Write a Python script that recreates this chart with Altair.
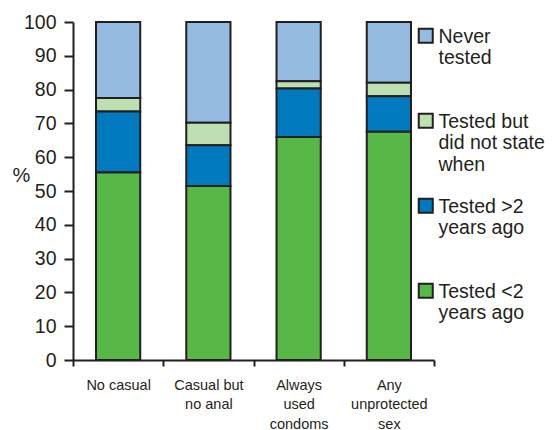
import altair as alt
import pandas as pd

categories = ["No casual", "Casual but\nno anal", "Always\nused\ncondoms", "Any\nunprotected\nsex"]
series = ["Never\ntested", "Tested but\ndid not state\nwhen", "Tested >2\nyears ago", "Tested <2\nyears ago"]
colors = ["#95BBE0", "#BDDFB1", "#0079BF", "#57B847"]
stack_order = [3, 2, 1, 0]

tested_lt2 = [55.5, 51.5, 66.0, 67.5]
tested_gt2 = [18.0, 12.0, 14.3, 10.5]
tested_nostate = [4.0, 6.7, 2.2, 4.0]
never_tested = [22.5, 29.8, 17.5, 18.0]

values_by_series = [never_tested, tested_nostate, tested_gt2, tested_lt2]

rows = []
for s, vals, o in zip(series, values_by_series, stack_order):
    for c, v in zip(categories, vals):
        rows.append({"cat": c, "series": s, "value": v, "ord": o})
df = pd.DataFrame(rows)

FONT = "Liberation Sans"
INK = "#231F20"

chart = alt.Chart(df).mark_bar(
    width=alt.RelativeBandSize(0.49), stroke=INK, strokeWidth=2, opacity=1
).encode(
    x=alt.X("cat:N", sort=categories, title=None,
            scale=alt.Scale(paddingInner=0, paddingOuter=0),
            axis=alt.Axis(labelAngle=0, labelExpr="split(datum.label, '\\n')",
                          tickBand="extent", labelFontSize=14.5, labelLineHeight=19.5,
                          labelPadding=12, tickSize=6, labelBaseline="top")),
    y=alt.Y("value:Q", stack="zero", title="%",
            scale=alt.Scale(domain=[0, 100], nice=False),
            axis=alt.Axis(values=list(range(0, 101, 10)), grid=False, tickSize=9,
                          labelFontSize=19.5, labelPadding=8, titleAngle=0,
                          titleFontSize=20, titleFontWeight="normal",
                          titleX=-52, titleY=153, titleAlign="center",
                          titleBaseline="middle")),
    color=alt.Color("series:N", sort=series,
                    scale=alt.Scale(domain=series, range=colors),
                    legend=alt.Legend(title=None, orient="none", legendX=343, legendY=-4,
                                      labelExpr="split(datum.label, '\\n')",
                                      labelFontSize=19.5,
                                      labelBaseline="top", labelOffset=3,
                                      symbolType="M-1,0.14H1V2.14H-1Z", symbolSize=196,
                                      symbolStrokeColor=INK, symbolStrokeWidth=2,
                                      symbolOpacity=1, gridAlign="all", rowPadding=13,
                                      padding=0, labelLimit=200)),
    order=alt.Order("ord:Q", sort="ascending"),
).properties(
    width=361, height=338,
    autosize=alt.AutoSizeParams(type="none"),
    padding={"left": 65, "top": 14, "right": 116, "bottom": 72},
).configure_view(
    stroke=None
).configure_axis(
    labelFont=FONT, titleFont=FONT, labelColor=INK, titleColor=INK,
    domainColor=INK, tickColor=INK, domainWidth=2, tickWidth=2
).configure_legend(
    labelFont=FONT, labelColor=INK
)

chart.save("out.html", embed_options={"renderer": "svg", "actions": False})
